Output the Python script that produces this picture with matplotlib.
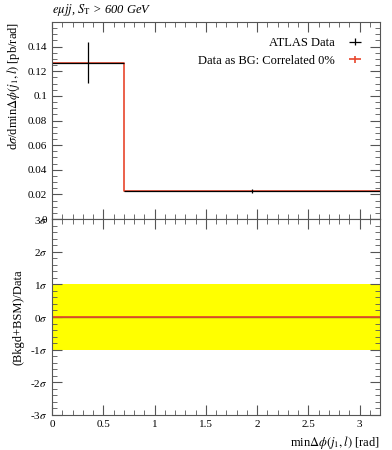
import numpy as np
import matplotlib
matplotlib.use('Agg')
import matplotlib.pyplot as plt
from matplotlib.ticker import MultipleLocator, FixedLocator
from matplotlib.legend_handler import HandlerErrorbar
from matplotlib.container import ErrorbarContainer

plt.rcParams['font.family'] = ['Liberation Serif', 'DejaVu Serif']
plt.rcParams['mathtext.fontset'] = 'stix'

# Bin edges and values
edges = [0.0, 0.7, 3.2]
data_vals = [0.127, 0.0228]
data_errs = [0.0166, 0.0018]
mc_vals = [0.127, 0.0228]
ratio_vals = [0.0, 0.0]
main_ticks = [0, 0.02, 0.04, 0.06, 0.08, 0.1, 0.12, 0.14]
main_labels = ['0', '0.02', '0.04', '0.06', '0.08', '0.1', '0.12', '0.14']
sigma_ticks = [-3, -2, -1, 0, 1, 2, 3]
sigma_labels = ['-3$\\sigma$', '-2$\\sigma$', '-1$\\sigma$', '0$\\sigma$',
                '1$\\sigma$', '2$\\sigma$', '3$\\sigma$']

edges = np.array(edges)
centres = 0.5 * (edges[:-1] + edges[1:])
halfw = 0.5 * (edges[1:] - edges[:-1])

fig = plt.figure(figsize=(3.92, 4.5), dpi=100)
ax = fig.add_axes([0.1327, 0.5133, 0.8367, 0.4378])
rx = fig.add_axes([0.1327, 0.0778, 0.8367, 0.4355], sharex=ax)

# Main panel
step_y = np.append(mc_vals, mc_vals[-1])
ax.step(edges, step_y, where='post', color='#e8452c', lw=1.2)
ax.errorbar(centres, data_vals, yerr=data_errs, xerr=halfw, fmt='none',
            ecolor='black', elinewidth=0.9, label='ATLAS Data')
ax.errorbar([], [], yerr=[], xerr=[], fmt='none', ecolor='#e8452c',
            elinewidth=1.2, label='Data as BG: Correlated 0%')
ax.set_xlim(0, 3.2)
ax.set_ylim(0, 0.16)
ax.yaxis.set_major_locator(FixedLocator(main_ticks))
ax.set_yticklabels(main_labels)
ax.yaxis.set_minor_locator(MultipleLocator(0.005))
ax.set_ylabel('d$\\sigma$/dmin$\\Delta\\phi(j_1,l)$ [pb/rad]', fontsize=9, loc='top')
ax.tick_params(labelbottom=False)
leg = ax.legend(loc='upper right', frameon=False, markerfirst=False,
                fontsize=9, handlelength=1.6, borderaxespad=0.8,
                labelspacing=0.45,
                handler_map={ErrorbarContainer: HandlerErrorbar(yerr_size=0.3)})
leg._legend_box.align = 'right'
ax.text(0.0, 1.02, '$e\\mu jj$, $S_\\mathrm{T}$ > 600 GeV', transform=ax.transAxes,
        fontsize=9, ha='left', va='bottom', style='italic')

# Ratio panel
rx.axhspan(-1, 1, color='#ffff00', lw=0)
rx.axhline(0, color='#6a7a20', lw=1.0)
r_y = np.append(ratio_vals, ratio_vals[-1])
rx.step(edges, r_y, where='post', color='#e8452c', lw=1.2)
rx.set_ylim(-3, 3)
rx.set_yticks(sigma_ticks)
rx.set_yticklabels(sigma_labels)
rx.yaxis.set_minor_locator(MultipleLocator(0.2))
rx.set_xticks([0, 0.5, 1, 1.5, 2, 2.5, 3])
rx.set_xticklabels(['0', '0.5', '1', '1.5', '2', '2.5', '3'])
rx.xaxis.set_minor_locator(MultipleLocator(0.1))
rx.set_ylabel('(Bkgd+BSM)/Data', fontsize=9)
rx.set_xlabel('min$\\Delta\\phi(j_1,l)$ [rad]', fontsize=9, loc='right')

for a in (ax, rx):
    for s in a.spines.values():
        s.set_color('#555555')
        s.set_linewidth(0.8)
    a.tick_params(which='both', direction='in', top=True, right=True,
                  color='#555555', labelsize=8)
    a.tick_params(which='major', length=7)
    a.tick_params(which='minor', length=3.5)

fig.savefig('out.png', dpi=100)
